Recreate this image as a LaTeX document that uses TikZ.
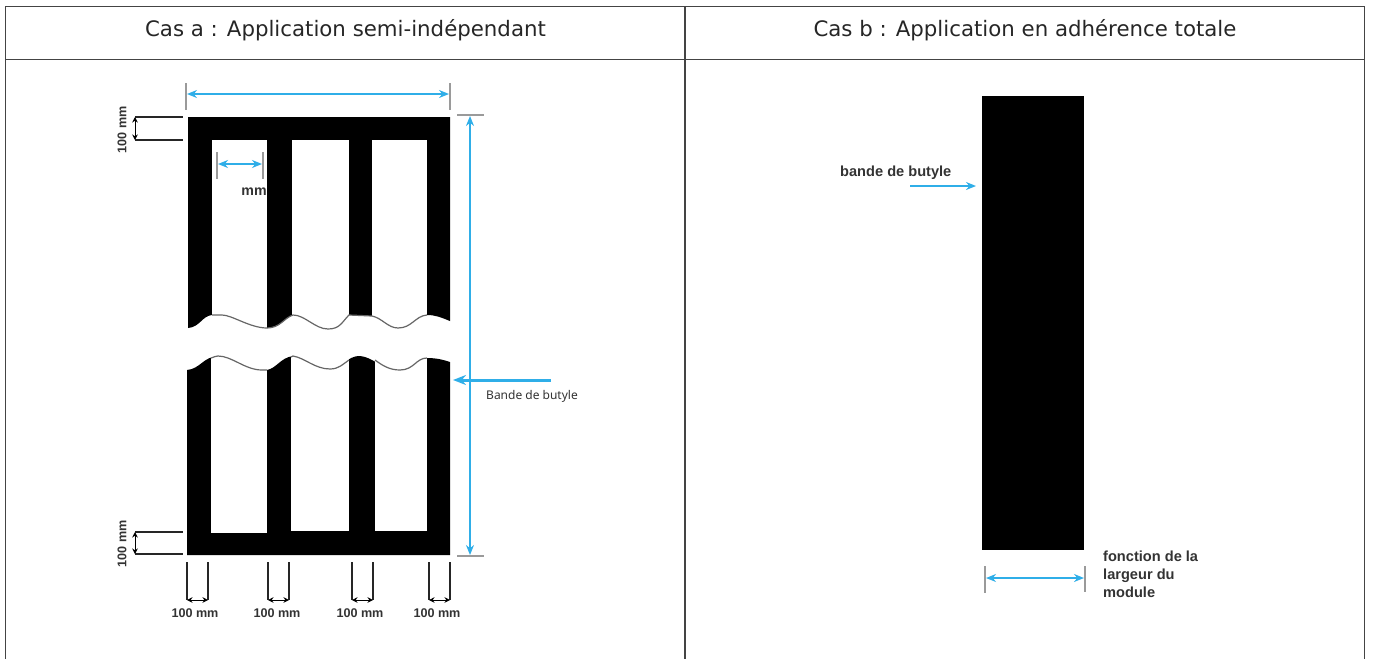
\documentclass[tikz,border=0pt]{standalone}
\usepackage{fontspec}
\usepackage{xcolor}
\setmainfont{Liberation Sans}
\newfontfamily\headfont{DejaVu Sans}
\newfontfamily\notefont{Noto Sans}
\usetikzlibrary{arrows.meta}

\definecolor{dim_blue}{HTML}{2FAEE8}
\definecolor{tick_grey}{HTML}{9A9A9A}
\definecolor{label_grey}{HTML}{333333}
\definecolor{grid_grey}{HTML}{444444}

\begin{document}
\begin{tikzpicture}[x=1pt,y=-1pt,
  head_label/.style={font=\headfont\fontsize{21.3}{25}\selectfont,text=black!85,inner sep=0pt},
  dim_label/.style={font=\bfseries\fontsize{12.6}{15}\selectfont,text=label_grey,inner sep=0pt},
  side_label/.style={font=\bfseries\fontsize{14.6}{18}\selectfont,text=label_grey,inner sep=0pt,align=left,anchor=west},
  grid_line/.style={draw=grid_grey,line width=1.3pt},
  tick_line/.style={draw=tick_grey,line width=1.5pt},
  ext_line/.style={draw=black!85,line width=1.2pt},
  wave_line/.style={draw=black!60,line width=1.2pt},
  blue_dim/.style={draw=dim_blue,line width=1.6pt,{Stealth[length=10pt,width=8pt]}-{Stealth[length=10pt,width=8pt]}},
  blue_one/.style={draw=dim_blue,line width=2pt,-{Stealth[length=10pt,width=8pt]}},
  blue_thick/.style={draw=dim_blue,line width=3pt,-{Stealth[length=13pt,width=10pt]}},
  black_dim/.style={draw=black,line width=1pt,{Stealth[length=5.5pt,width=5.5pt]}-{Stealth[length=5.5pt,width=5.5pt]}}]

\useasboundingbox (0,0) rectangle (1373,659);

% table
\coordinate (tl) at (5.3,6.3);
\coordinate (tm) at (685,6.3);
\coordinate (tr) at (1364.7,6.3);
\coordinate (ml) at (5.3,59.6);
\coordinate (mm) at (685,59.6);
\coordinate (mr) at (1364.7,59.6);
\coordinate (bl) at (5.3,659);
\coordinate (bm) at (685,659);
\coordinate (br) at (1364.7,659);
\path[grid_line]
(tl) edge (tr)
(ml) edge (mr)
(tl) edge (bl)
(tm) edge (bm)
(tr) edge (br)
;
\node[head_label] (head_a) at (345.5,30) {Cas a : Application semi-indépendant};
\node[head_label] (head_b) at (1025,30) {Cas b : Application en adhérence totale};

% case a, upper part
\fill[black] (188,117) -- (450,117) -- (450,321)
  .. controls (440,317) and (435,315) .. (427,315)
  .. controls (415,316) and (412,328) .. (398,328)
  .. controls (388,328) and (382,318) .. (372,316)
  -- (349,315)
  .. controls (342,322) and (340,329) .. (328,329)
  .. controls (315,329) and (305,315) .. (293,315)
  .. controls (284,318) and (280,328) .. (267,328)
  .. controls (250,328) and (232,315) .. (222,315)
  -- (212,315) .. controls (202,316) and (200,327) .. (188,328) -- cycle;
\fill[white] (212,140) rectangle (267,333);
\fill[white] (292,140) rectangle (349,333);
\fill[white] (372,140) rectangle (427,333);
\draw[wave_line] (427,315)
  .. controls (415,316) and (412,328) .. (398,328)
  .. controls (388,328) and (382,318) .. (372,316)
  -- (349,315)
  .. controls (342,322) and (340,329) .. (328,329)
  .. controls (315,329) and (305,315) .. (293,315)
  .. controls (284,318) and (280,328) .. (267,328)
  .. controls (250,328) and (232,315) .. (222,315)
  -- (212,315);

% case a, lower part
\fill[black] (187,370) .. controls (200,369) and (203,357) .. (218,356)
  .. controls (232,356) and (245,370) .. (262,370) -- (267,370)
  .. controls (277,368) and (280,358) .. (293,356)
  .. controls (305,358) and (315,369) .. (330,369)
  .. controls (345,369) and (345,356) .. (360,356)
  .. controls (373,357) and (382,370) .. (400,370)
  .. controls (414,370) and (416,358) .. (427,358)
  .. controls (437,358) and (444,360) .. (450,362)
  -- (450,555) -- (187,555) -- cycle;
\fill[white] (211,350) rectangle (267,532.5);
\fill[white] (291,350) rectangle (349,530.5);
\fill[white] (375,350) rectangle (427,530.5);
\draw[wave_line] (211,358) .. controls (214,357) and (216,356) .. (218,356)
  .. controls (232,356) and (245,370) .. (262,370) -- (267,370);
\draw[wave_line] (291,357) -- (293,356)
  .. controls (305,358) and (315,369) .. (330,369)
  .. controls (339,369) and (343,364) .. (349,360);
\draw[wave_line] (375,360)
  .. controls (383,366) and (390,370) .. (400,370)
  .. controls (414,370) and (416,358) .. (427,358);

% overall dimensions
\coordinate (w_tl) at (186,83);
\coordinate (w_bl) at (186,110);
\coordinate (w_tr) at (450,83);
\coordinate (w_br) at (450,110);
\coordinate (w_a) at (187,94);
\coordinate (w_b) at (449,94);
\coordinate (h_tl) at (457,115);
\coordinate (h_tr) at (484,115);
\coordinate (h_bl) at (457,556);
\coordinate (h_br) at (484,556);
\coordinate (h_a) at (470,116);
\coordinate (h_b) at (470,555);
\coordinate (g_tl) at (217,152);
\coordinate (g_bl) at (217,179);
\coordinate (g_tr) at (263,152);
\coordinate (g_br) at (263,179);
\coordinate (g_a) at (218,164);
\coordinate (g_b) at (262,164);
\path[tick_line]
(w_tl) edge (w_bl)
(w_tr) edge (w_br)
(h_tl) edge (h_tr)
(h_bl) edge (h_br)
(g_tl) edge (g_bl)
(g_tr) edge (g_br)
;
\path
(w_a) edge[blue_dim] (w_b)
(h_a) edge[blue_dim] (h_b)
(g_a) edge[blue_dim] (g_b)
;
\node[dim_label,font=\bfseries\fontsize{14.2}{16}\selectfont] (mm_label) at (254,192) {mm};

% 100 mm, left side
\coordinate (t_a) at (135,117);
\coordinate (t_b) at (183,117);
\coordinate (t_c) at (135,140);
\coordinate (t_d) at (183,140);
\coordinate (u_a) at (135,532);
\coordinate (u_b) at (183,532);
\coordinate (u_c) at (135,554);
\coordinate (u_d) at (183,554);
\path[ext_line]
(t_a) edge (t_b)
(t_c) edge (t_d)
(u_a) edge (u_b)
(u_c) edge (u_d)
;
\path
(t_a) edge[black_dim] (t_c)
(u_a) edge[black_dim] (u_c)
;
\node[dim_label,rotate=90] (side_top) at (122,130) {100 mm};
\node[dim_label,rotate=90] (side_bot) at (122,544) {100 mm};

% 100 mm, under the strip
\foreach \name/\xa/\xb/\xt in {p/187/208/195, q/268/289/277, r/352/373/360, s/429/450/437} {
  \coordinate (\name_a) at (\xa,562);
  \coordinate (\name_b) at (\xa,600);
  \coordinate (\name_c) at (\xb,562);
  \coordinate (\name_d) at (\xb,600);
  \path[ext_line]
  (\name_a) edge (\name_b)
  (\name_c) edge (\name_d)
  ;
  \path (\name_b) edge[black_dim] (\name_d);
  \node[dim_label] (\name_label) at (\xt,613) {100 mm};
}

% butyl strip, case a
\coordinate (strip_a) at (551,380);
\coordinate (strip_b) at (453,380);
\path (strip_a) edge[blue_thick] (strip_b);
\node[font=\notefont\fontsize{12}{14}\selectfont,text=label_grey,inner sep=0pt,anchor=west] (strip_label) at (486,396.5) {Bande de butyle};

% case b
\fill[black] (982,96) rectangle (1084,550);
\coordinate (n_a) at (910,186);
\coordinate (n_b) at (976,186);
\path (n_a) edge[blue_one] (n_b);
\node[side_label] (n_label) at (840,172.5) {bande de butyle};
\coordinate (m_a) at (985,566);
\coordinate (m_b) at (985,593);
\coordinate (m_c) at (1085,566);
\coordinate (m_d) at (1085,592);
\coordinate (m_e) at (986,578);
\coordinate (m_f) at (1084,578);
\path[tick_line]
(m_a) edge (m_b)
(m_c) edge (m_d)
;
\path (m_e) edge[blue_dim] (m_f);
\node[side_label] (m_label) at (1103,574) {fonction de la\\largeur du\\module};

\end{tikzpicture}
\end{document}
